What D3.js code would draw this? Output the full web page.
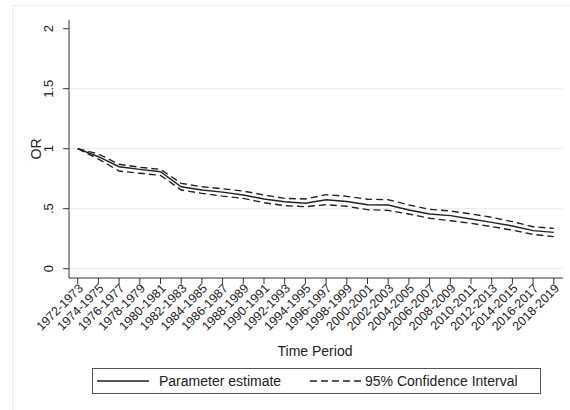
<!DOCTYPE html>
<html>
<head>
<meta charset="utf-8">
<script src="https://cdn.jsdelivr.net/npm/d3@7"></script>
<style>
  body { margin: 0; background: #fff; }
  svg { display: block; font-family: "Liberation Sans", Arial, sans-serif; }
</style>
</head>
<body>
<svg width="570" height="410"></svg>
<script>
// periods along the x axis
const periods = ['1972-1973','1974-1975','1976-1977','1978-1979','1980-1981','1982-1983',
  '1984-1985','1986-1987','1988-1989','1990-1991','1992-1993','1994-1995','1996-1997',
  '1998-1999','2000-2001','2002-2003','2004-2005','2006-2007','2008-2009','2010-2011',
  '2012-2013','2014-2015','2016-2017','2018-2019'];

// odds ratio
const estimate = [1.0, 0.933, 0.85, 0.828, 0.808, 0.683, 0.656, 0.638, 0.614, 0.581, 0.558, 0.545,
  0.575, 0.56, 0.533, 0.531, 0.489, 0.456, 0.442, 0.414, 0.386, 0.356, 0.317, 0.303];
const upper = [1.0, 0.956, 0.87, 0.845, 0.828, 0.711, 0.683, 0.666, 0.647, 0.614, 0.586, 0.581,
  0.617, 0.603, 0.579, 0.575, 0.531, 0.495, 0.481, 0.456, 0.428, 0.392, 0.35, 0.336];
const lower = [1.0, 0.914, 0.814, 0.795, 0.778, 0.656, 0.628, 0.605, 0.586, 0.55, 0.525, 0.517,
  0.533, 0.52, 0.492, 0.486, 0.456, 0.42, 0.40, 0.378, 0.35, 0.322, 0.286, 0.267];

const yTicks = [0, 0.5, 1, 1.5, 2];
const yTickLabels = ['0', '.5', '1', '1.5', '2'];
const legendItems = [
  {label: 'Parameter estimate', dash: null},
  {label: '95% Confidence Interval', dash: '7,4'}
];

const svg = d3.select('svg');
const plotL = 69, plotR = 563, plotT = 20, plotB = 278;

// faint outer frame
svg.append('rect').attr('x', 12.5).attr('y', 5.5).attr('width', 570).attr('height', 420)
  .attr('fill', 'none').attr('stroke', '#ececec');

const x = d3.scalePoint().domain(periods).range([77.7, 553.8]);
const y = d3.scaleLinear().domain([0, 2]).range([268.7, 28.7]);

// grid lines (none at the top value)
svg.append('g').selectAll('line').data(yTicks.filter(d => d < 2)).join('line')
  .attr('x1', plotL).attr('x2', plotR)
  .attr('y1', d => y(d)).attr('y2', d => y(d))
  .attr('stroke', '#eaeaea').attr('stroke-width', 1);

// y axis
const yAxis = svg.append('g').attr('transform', `translate(${plotL},0)`)
  .call(d3.axisLeft(y).tickValues(yTicks).tickFormat((d, i) => yTickLabels[i])
    .tickSize(6).tickSizeOuter(0));
yAxis.select('.domain').attr('d', `M0,${plotT}V${plotB}`);
yAxis.selectAll('line, path').attr('stroke', '#333');
yAxis.selectAll('.tick').attr('transform', null);
yAxis.selectAll('.tick line').attr('y1', d => y(d)).attr('y2', d => y(d));
yAxis.selectAll('text')
  .attr('font-size', 13).attr('fill', '#222')
  .attr('text-anchor', 'middle')
  .attr('transform', d => `translate(-21,${y(d)}) rotate(-90)`)
  .attr('x', 0).attr('y', 0).attr('dy', '0.35em');

// x axis
const xAxis = svg.append('g').attr('transform', `translate(0,${plotB})`)
  .call(d3.axisBottom(x).tickSize(6).tickSizeOuter(0));
xAxis.select('.domain').attr('d', `M${plotL},0H${plotR}`);
xAxis.selectAll('line, path').attr('stroke', '#333');
xAxis.selectAll('.tick').attr('transform', null);
xAxis.selectAll('.tick line').attr('x1', d => x(d)).attr('x2', d => x(d));
xAxis.selectAll('text')
  .attr('font-size', 12.5).attr('fill', '#222')
  .attr('text-anchor', 'end')
  .attr('transform', d => `translate(${x(d) + 3},8) rotate(-45)`)
  .attr('x', 0).attr('y', 0).attr('dy', '0.35em');

// axis titles
svg.append('text').attr('transform', 'translate(41,149) rotate(-90)')
  .attr('text-anchor', 'middle').attr('font-size', 14).attr('fill', '#222').text('OR');
svg.append('text').attr('x', 315).attr('y', 356)
  .attr('text-anchor', 'middle').attr('font-size', 14).attr('fill', '#222').text('Time Period');

// lines
const line = d3.line().x((d, i) => x(periods[i])).y(d => y(d));
const series = [
  {values: upper, dash: '7,4'},
  {values: lower, dash: '7,4'},
  {values: estimate, dash: null}
];
svg.append('g').selectAll('path').data(series).join('path')
  .attr('d', d => line(d.values))
  .attr('fill', 'none').attr('stroke', '#222').attr('stroke-width', 1.4)
  .attr('stroke-dasharray', d => d.dash);

// legend
const lg = svg.append('g');
lg.append('rect').attr('x', 92.5).attr('y', 368.5).attr('width', 448).attr('height', 25)
  .attr('fill', '#fff').attr('stroke', '#555');
const offsets = [97, 310];
const items = lg.selectAll('g.item').data(legendItems).join('g')
  .attr('transform', (d, i) => `translate(${offsets[i]},381)`);
items.append('line').attr('x1', 0).attr('x2', 52)
  .attr('stroke', '#222').attr('stroke-width', 1.3)
  .attr('stroke-dasharray', d => d.dash);
items.append('text').attr('x', (d, i) => i ? 55 : 62).attr('dy', '0.35em')
  .attr('font-size', 14).attr('fill', '#222').text(d => d.label);
</script>
</body>
</html>
